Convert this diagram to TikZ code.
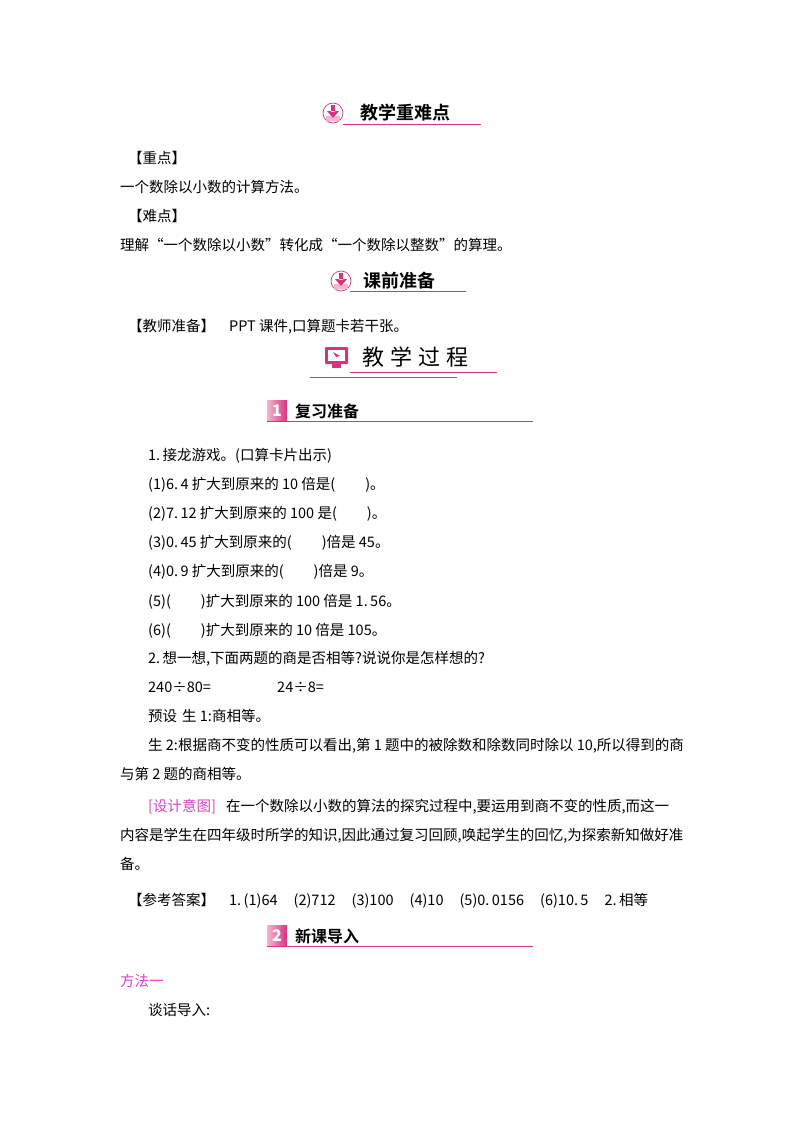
\documentclass[tikz,border=0pt]{standalone}
\usepackage{fontspec}
\setmainfont{Noto Sans CJK SC}
\newfontfamily\hfont{Noto Sans CJK SC Bold}
\definecolor{pk}{HTML}{D6337F}
\definecolor{pkl}{HTML}{F2B6CF}
\definecolor{mg}{HTML}{E040C0}
\begin{document}
\begin{tikzpicture}[x=1pt,y=-1pt,
  t/.style={anchor=base west,inner sep=0pt,font=\fontsize{14.5}{16}\selectfont},
  h/.style={anchor=base west,inner sep=0pt,font=\hfont\fontsize{18}{20}\selectfont},
  ul/.style={pk,line width=0.8pt}]
\useasboundingbox[fill=white] (0,0) rectangle (800,1132);
% header 1
\node[circle,draw=pk,line width=0.7pt,fill=white,minimum size=20pt,inner sep=0pt] (i1) at (333,113) {};
\fill[pkl] (326,116) rectangle (340,121);
\fill[pk] (331,105) rectangle (335,112) (327,111)--(339,111)--(333,118)--cycle;
\node[h] (h1) at (360,119) {教学重难点};
\draw[ul] (343,124) -- (481,124);
\node[t] (a1) at (128,163) {【重点】};
\node[t] (a2) at (120,192) {一个数除以小数的计算方法。};
\node[t] (a3) at (128,221) {【难点】};
\node[t] (a4) at (120,250) {理解“一个数除以小数”转化成“一个数除以整数”的算理。};
% header 2
\node[circle,draw=pk,line width=0.7pt,fill=white,minimum size=20pt,inner sep=0pt] (i2) at (341,281) {};
\fill[pkl] (334,284) rectangle (348,289);
\fill[pk] (339,273) rectangle (343,280) (335,279)--(347,279)--(341,286)--cycle;
\node[h] (h2) at (363,287) {课前准备};
\draw[ul] (350,291) -- (466,291);
\node[t] (b1) at (128,331) {【教师准备】\hspace{14pt}PPT 课件,口算题卡若干张。};
% header 3
\fill[pk,rounded corners=1pt] (325,347) rectangle (348,364);
\fill[white] (328,350) rectangle (345,361);
\fill[pk] (333,352)--(340,356)--(336,357)--cycle;
\fill[pk] (332,364) rectangle (341,368);
\node[anchor=base west,inner sep=0pt,font=\fontsize{22}{24}\selectfont] (h3) at (362,365) {教\hspace{6pt}学\hspace{6pt}过\hspace{6pt}程};
\draw[ul,line width=0.6pt] (350,372) -- (497,372);
\draw[ul,line width=0.6pt] (310,377) -- (457,377);
% section 1
\shade[left color=pkl,right color=pk] (267,400) rectangle (287,421);
\node[anchor=center,inner sep=0pt,text=white,font=\bfseries\itshape\fontsize{16}{16}\selectfont] (n1) at (277,411) {1};
\node[h,font=\hfont\fontsize{16}{18}\selectfont] (s1) at (295,417) {复习准备};
\draw[ul,line width=0.6pt] (267,421.5) -- (533,421.5);
\node[t] (c1) at (148,460) {1.\,接龙游戏。(口算卡片出示)};
\node[t] (c2) at (148,489) {(1)6.\,4 扩大到原来的 10 倍是(\hspace{30pt})。};
\node[t] (c3) at (148,518) {(2)7.\,12 扩大到原来的 100 是(\hspace{30pt})。};
\node[t] (c4) at (148,547) {(3)0.\,45 扩大到原来的(\hspace{30pt})倍是 45。};
\node[t] (c5) at (148,576) {(4)0.\,9 扩大到原来的(\hspace{30pt})倍是 9。};
\node[t] (c6) at (148,606) {(5)(\hspace{30pt})扩大到原来的 100 倍是 1.\,56。};
\node[t] (c7) at (148,635) {(6)(\hspace{30pt})扩大到原来的 10 倍是 105。};
\node[t] (c8) at (148,663) {2.\,想一想,下面两题的商是否相等?说说你是怎样想的?};
\node[t] (c9) at (148,692) {240÷80=};
\node[t] (c10) at (277,692) {24÷8=};
\node[t] (c11) at (148,721) {预设\hspace{5pt}生 1:商相等。};
\node[t] (c12) at (148,750) {生 2:根据商不变的性质可以看出,第 1 题中的被除数和除数同时除以 10,所以得到的商};
\node[t] (c13) at (120,779) {与第 2 题的商相等。};
\node[t] (c14) at (148,811) {\textcolor{mg}{[设计意图]}\hspace{10pt}在一个数除以小数的算法的探究过程中,要运用到商不变的性质,而这一};
\node[t] (c15) at (120,840) {内容是学生在四年级时所学的知识,因此通过复习回顾,唤起学生的回忆,为探索新知做好准};
\node[t] (c16) at (120,869) {备。};
\node[t] (c17) at (128,905) {【参考答案】\hspace{14pt}1.\,(1)64\hspace{16pt}(2)712\hspace{16pt}(3)100\hspace{16pt}(4)10\hspace{16pt}(5)0.\,0156\hspace{16pt}(6)10.\,5\hspace{16pt}2.\,相等};
% section 2
\shade[left color=pkl,right color=pk] (267,925) rectangle (287,946);
\node[anchor=center,inner sep=0pt,text=white,font=\bfseries\itshape\fontsize{16}{16}\selectfont] (n2) at (277,936) {2};
\node[h,font=\hfont\fontsize{16}{18}\selectfont] (s2) at (295,942) {新课导入};
\draw[ul,line width=0.6pt] (267,946.5) -- (533,946.5);
\node[t,text=mg] (d1) at (120,986) {方法一};
\node[t] (d2) at (148,1015) {谈话导入:};
\end{tikzpicture}
\end{document}
